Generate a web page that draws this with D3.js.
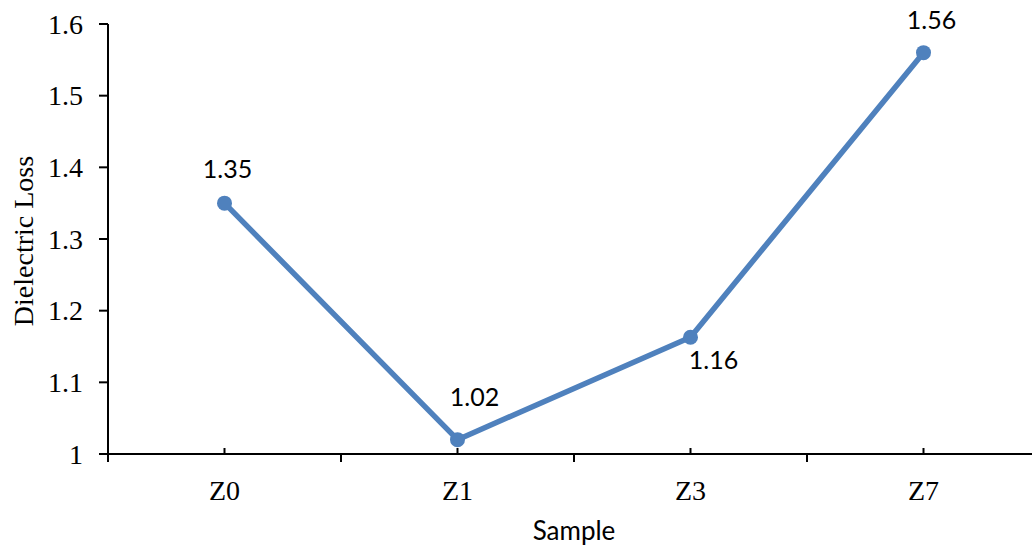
<!DOCTYPE html>
<html><head><meta charset="utf-8">
<script src="https://cdn.jsdelivr.net/npm/d3@7/dist/d3.min.js"></script>
<style>body{margin:0;background:#fff}svg{display:block}</style>
</head><body>
<svg id="c" width="1032" height="546"></svg>
<script>
const categories = ["Z0", "Z1", "Z3", "Z7"];
const values = [1.35, 1.02, 1.163, 1.56];
const valueLabels = ["1.35", "1.02", "1.16", "1.56"];
const yTicks = [1, 1.1, 1.2, 1.3, 1.4, 1.5, 1.6];
const yTickLabels = ["1", "1.1", "1.2", "1.3", "1.4", "1.5", "1.6"];

// label offsets (dx, dy relative to point) - layout only
const labelOffsets = [[3, -25], [17, -34], [23, 32], [8, -24]];

const svg = d3.select("#c");
const x = d3.scaleBand().domain(categories).range([108, 1040]).paddingInner(0).paddingOuter(0);
const y = d3.scaleLinear().domain([1, 1.6]).range([454, 24]);
const color = "#4F81BD";

// Y axis
svg.append("line").attr("x1", 108).attr("x2", 108).attr("y1", y(1.6)).attr("y2", y(1) + 8)
  .attr("stroke", "#000").attr("stroke-width", 2);
yTicks.forEach((t, i) => {
  svg.append("line").attr("x1", 99).attr("x2", 108).attr("y1", y(t)).attr("y2", y(t))
    .attr("stroke", "#000").attr("stroke-width", 2);
  svg.append("text").attr("x", 83).attr("y", y(t)).attr("dy", "0.34em")
    .attr("text-anchor", "end").attr("font-family", "Liberation Serif")
    .attr("font-size", 28).text(yTickLabels[i]);
});

// X axis
svg.append("line").attr("x1", 99).attr("x2", 1032).attr("y1", y(1)).attr("y2", y(1))
  .attr("stroke", "#000").attr("stroke-width", 2);
categories.forEach((c, i) => {
  const x0 = x(c);
  if (i > 0) svg.append("line").attr("x1", x0).attr("x2", x0).attr("y1", y(1)).attr("y2", y(1) + 8)
    .attr("stroke", "#000").attr("stroke-width", 2);
  const cx = x0 + x.bandwidth() / 2;
  svg.append("line").attr("x1", cx).attr("x2", cx).attr("y1", y(1)).attr("y2", y(1) - 6)
    .attr("stroke", "#000").attr("stroke-width", 2);
  svg.append("text").attr("x", cx).attr("y", 500).attr("text-anchor", "middle")
    .attr("font-family", "Liberation Serif").attr("font-size", 28).text(c);
});

// Axis titles
svg.append("text").attr("x", 574).attr("y", 540).attr("text-anchor", "middle")
  .attr("font-family", "Lato, 'Liberation Sans'").attr("font-size", 26).text("Sample");
svg.append("text").attr("transform", "translate(33," + 241 + ") rotate(-90)")
  .attr("text-anchor", "middle").attr("font-family", "Liberation Serif")
  .attr("font-size", 28).text("Dielectric Loss");

// Line
const cxOf = c => x(c) + x.bandwidth() / 2;
const line = d3.line().x((d, i) => cxOf(categories[i])).y(d => y(d));
svg.append("path").datum(values).attr("d", line).attr("fill", "none")
  .attr("stroke", color).attr("stroke-width", 5.5).attr("stroke-linejoin", "round");
svg.selectAll("circle.pt").data(values).enter().append("circle")
  .attr("cx", (d, i) => cxOf(categories[i])).attr("cy", d => y(d)).attr("r", 7.5)
  .attr("fill", color);

// Data labels
svg.selectAll("text.lbl").data(values).enter().append("text")
  .attr("x", (d, i) => cxOf(categories[i]) + labelOffsets[i][0])
  .attr("y", (d, i) => y(d) + labelOffsets[i][1])
  .attr("text-anchor", "middle").attr("font-family", "Lato, 'Liberation Sans'")
  .attr("font-size", 25).text((d, i) => valueLabels[i]);
</script>
</body></html>
